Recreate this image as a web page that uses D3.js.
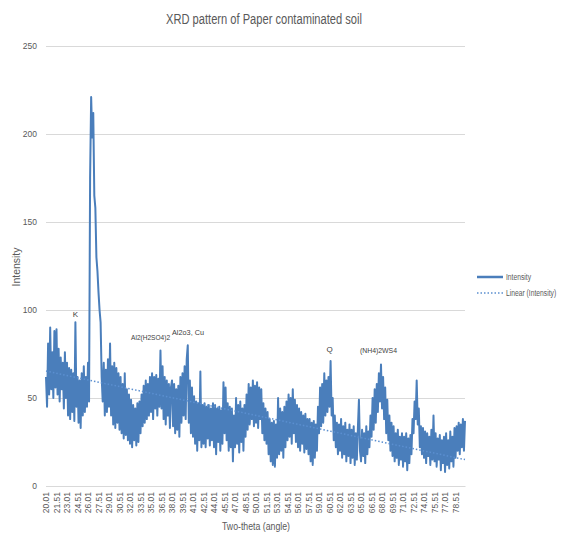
<!DOCTYPE html>
<html>
<head>
<meta charset="utf-8">
<script src="https://cdn.jsdelivr.net/npm/d3@7/dist/d3.min.js"></script>
<style>
html,body{margin:0;padding:0;background:#fff;}
svg{display:block;}
text{font-family:"Liberation Sans Narrow","Arial Narrow","Liberation Sans",sans-serif;}
</style>
</head>
<body>
<svg id="chart" width="566" height="533"></svg>
<script>
// ---- data ----
const title = "XRD pattern of Paper contaminated soil";
const xAxisTitle = "Two-theta (angle)";
const yAxisTitle = "Intensity";
const xTickLabels = ["20.01","21.51","23.01","24.51","26.01","27.51","29.01","30.51","32.01","33.51",
  "35.01","36.51","38.01","39.51","41.01","42.51","44.01","45.51","47.01","48.51",
  "50.01","51.51","53.01","54.51","56.01","57.51","59.01","60.51","62.01","63.51",
  "65.01","66.51","68.01","69.51","71.01","72.51","74.01","75.51","77.01","78.51"];
const yTicks = [0, 50, 100, 150, 200, 250];
// intensity sampled every 0.15 degree from 20.01
const intensity = [
  62,45,81,52,90,55,76,50,88,56,
  89,52,78,48,73,55,70,44,76,50,
  70,40,67,38,66,42,64,37,93,45,
  62,36,60,33,64,40,68,42,62,45,
  70,48,175,221,198,212,165,158,130,122,
  110,100,93,62,48,70,40,66,42,72,
  45,81,40,68,35,70,33,67,36,64,
  32,62,30,58,27,64,29,55,26,52,
  24,49,22,46,26,44,23,47,25,48,
  30,52,34,57,36,60,38,58,40,62,
  42,64,38,62,44,63,40,61,45,77,
  44,68,38,62,35,60,40,58,33,56,
  60,34,58,30,55,32,57,28,62,36,
  64,40,68,38,72,80,36,60,30,56,
  28,51,24,48,20,47,26,65,22,46,
  24,47,22,45,27,46,23,44,26,47,
  22,46,18,44,25,45,20,43,24,59,
  30,56,26,47,20,45,22,44,14,40,
  22,50,24,46,19,48,25,44,20,46,
  28,52,32,58,35,56,38,60,34,57,
  36,59,33,56,38,55,30,47,26,44,
  24,42,18,38,14,36,12,37,11,35,
  16,50,18,44,20,42,16,45,22,48,
  26,52,28,50,24,55,30,49,25,46,
  22,44,20,42,24,40,19,41,21,38,
  18,38,14,36,12,37,16,35,20,45,
  30,56,34,58,36,64,40,60,42,62,
  45,71,40,50,26,40,22,36,18,35,
  20,38,16,34,18,36,14,32,17,35,
  13,32,16,34,12,30,15,33,49,20,
  14,32,17,30,13,34,18,31,22,40,
  28,50,32,55,36,58,42,64,48,69,
  44,62,38,56,30,49,26,40,20,36,
  17,34,14,30,16,32,12,28,15,30,
  11,28,14,30,9,27,13,29,18,38,
  30,48,38,60,35,44,22,34,18,33,
  16,31,13,30,17,28,12,32,15,40,
  14,30,11,27,15,29,9,26,13,28,
  8,30,12,26,10,31,14,28,11,33,
  16,34,20,36,18,35,22,38,20,37
];
// linear trendline values at first and last sample
const trendEnds = [65.3, 15.0];
const peakLabels = ["K", "Al2(H2SO4)2", "Al2o3, Cu", "Q", "(NH4)2WS4"];
const peakIndex  = [28, 81, 120, 270, 299];   // sample index where the label sits
const peakValue  = [96, 83, 86, 76, 75.5];    // intensity level of label baseline
const legendLabels = ["Intensity", "Linear (Intensity)"];

// ---- drawing ----
const svg = d3.select("#chart");
const W = 566, H = 533;
const plot = {left: 46, right: 465, top: 46, bottom: 486};
const N = intensity.length;
const x = d3.scaleLinear().domain([0, N - 1]).range([plot.left, plot.right]);
const y = d3.scaleLinear().domain([0, 250]).range([plot.bottom, plot.top]);
const grey = "#595959";
const blue = "#4a7ebb";
const trendBlue = "#5b8fd0";

svg.append("rect").attr("width", W).attr("height", H).attr("fill", "#fff");

// title
svg.append("text").attr("x", 264).attr("y", 24).attr("text-anchor", "middle")
  .attr("font-size", 14).attr("fill", grey)
  .attr("textLength", 196).attr("lengthAdjust", "spacingAndGlyphs").text(title);

// gridlines + y labels
const yAxis = d3.axisLeft(y).tickValues(yTicks).tickSize(-(plot.right - plot.left)).tickPadding(9)
  .tickFormat(d3.format("d"));
const gy = svg.append("g").attr("transform", `translate(${plot.left},0)`).call(yAxis);
gy.select(".domain").remove();
gy.selectAll(".tick line").attr("stroke", "#d9d9d9").attr("stroke-width", 1);
gy.selectAll(".tick text").attr("fill", grey).attr("font-size", 8.5)
  .attr("font-family", "'Liberation Sans Narrow','Arial Narrow',sans-serif");

// x axis category labels
const xAxis = d3.axisBottom(x).tickValues(d3.range(0, xTickLabels.length).map(k => k * 10))
  .tickSize(0).tickFormat((d, i) => xTickLabels[i]);
const gx = svg.append("g").attr("transform", `translate(0,${plot.bottom})`).call(xAxis);
gx.select(".domain").attr("stroke", "#d9d9d9");
gx.selectAll(".tick text").attr("fill", grey).attr("font-size", 8.5)
  .attr("font-family", "'Liberation Sans Narrow','Arial Narrow',sans-serif")
  .attr("text-anchor", "end").attr("transform", "rotate(-90)")
  .attr("x", -6).attr("y", 0).attr("dy", "0.32em");

// axis titles
svg.append("text").attr("x", 256).attr("y", 530).attr("text-anchor", "middle")
  .attr("font-size", 10).attr("fill", grey)
  .attr("textLength", 68).attr("lengthAdjust", "spacingAndGlyphs").text(xAxisTitle);
svg.append("text").attr("transform", "translate(20,267) rotate(-90)").attr("text-anchor", "middle")
  .attr("font-size", 10).attr("fill", grey)
  .attr("textLength", 39).attr("lengthAdjust", "spacingAndGlyphs").text(yAxisTitle);

// data line
const line = d3.line().x((d, i) => x(i)).y(d => y(d));
svg.append("path").datum(intensity).attr("d", line)
  .attr("fill", "none").attr("stroke", blue).attr("stroke-width", 2).attr("stroke-linejoin", "round");

// trendline
svg.append("line")
  .attr("x1", x(0)).attr("y1", y(trendEnds[0]))
  .attr("x2", x(N - 1)).attr("y2", y(trendEnds[1]))
  .attr("stroke", trendBlue).attr("stroke-width", 1.5).attr("stroke-dasharray", "1.5,2");

// peak annotations
const labelLen = [0, 39, 32, 0, 37];
svg.selectAll("text.peak").data(peakLabels).enter().append("text").attr("class", "peak")
  .attr("x", (d, i) => x(peakIndex[i])).attr("y", (d, i) => y(peakValue[i]))
  .attr("text-anchor", (d, i) => labelLen[i] ? "start" : "middle")
  .attr("font-size", 8).attr("fill", "#404040")
  .each(function (d, i) {
    if (labelLen[i]) d3.select(this).attr("textLength", labelLen[i]).attr("lengthAdjust", "spacingAndGlyphs");
  })
  .text(d => d);

// legend
const lg = svg.append("g");
lg.append("line").attr("x1", 477).attr("x2", 503).attr("y1", 277).attr("y2", 277)
  .attr("stroke", blue).attr("stroke-width", 2.5);
lg.append("line").attr("x1", 477).attr("x2", 503).attr("y1", 293).attr("y2", 293)
  .attr("stroke", trendBlue).attr("stroke-width", 1.5).attr("stroke-dasharray", "1.5,2");
lg.selectAll("text").data(legendLabels).enter().append("text")
  .attr("transform", (d, i) => `translate(506,${280 + i * 16}) scale(0.75,1)`)
  .attr("font-size", 9).attr("fill", grey)
  .text(d => d);
</script>
</body>
</html>
